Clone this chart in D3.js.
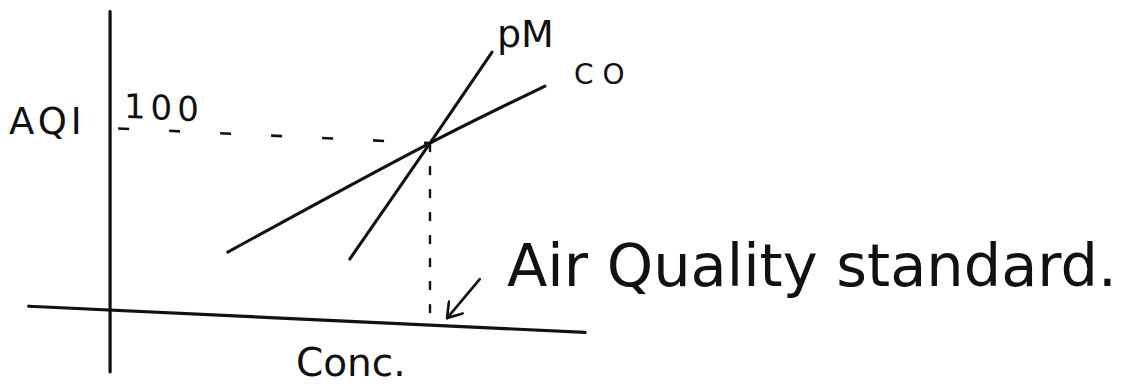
<!DOCTYPE html>
<html>
<head>
<meta charset="utf-8">
<script src="https://cdn.jsdelivr.net/npm/d3@7/dist/d3.min.js"></script>
<style>
  html, body { margin: 0; padding: 0; background: #fff; }
  svg { display: block; }
  text { font-family: "DejaVu Sans", sans-serif; fill: #111; }
</style>
</head>
<body>
<svg id="chart" width="1126" height="389"></svg>
<script>
// Sketch of AQI vs concentration for two pollutants
const pmConc = [45, 60, 71.6];
const pmAqi = [34.2, 100, 151.6];
const coConc = [22.2, 60, 81.5];
const coAqi = [34.9, 100, 134.3];

const standardConc = 60;     // concentration at the air quality standard
const standardAqi = 100;     // AQI value at the standard
const guideStartConc = 1.7;  // where the horizontal guide starts

const xAxisExtent = [-15, 89];
const yAxisExtent = [-34, 164];

const yTickValues = [100];
const yTickLabels = ["100"];

const arrowConc = [69.3, 63.2];
const arrowAqi = [26.6, 4.3];

const W = 1126, H = 389;
const svg = d3.select("#chart");

const x = d3.scaleLinear().domain([0, 60]).range([109, 430]);
const y = d3.scaleLinear().domain([0, 100]).range([310, 128]);

// the paper sketch is slightly tilted: shear the plot about the y axis
const tilt = 0.047;
const tiltDeg = Math.atan(tilt) * 180 / Math.PI;
const plot = svg.append("g")
  .attr("transform", `translate(0,${-x(0) * tilt}) skewY(${tiltDeg})`);

const ink = "#111";

svg.append("defs").append("marker")
  .attr("id", "head")
  .attr("markerUnits", "userSpaceOnUse")
  .attr("viewBox", "0 0 20 20")
  .attr("refX", 18).attr("refY", 10)
  .attr("markerWidth", 20).attr("markerHeight", 20)
  .attr("orient", "auto")
  .append("path")
  .attr("d", "M4,1 L18,10 L4,19")
  .attr("fill", "none")
  .attr("stroke", ink)
  .attr("stroke-width", 2.6)
  .attr("stroke-linecap", "round")
  .attr("stroke-linejoin", "round");

const line = d3.line().x(d => x(d[0])).y(d => y(d[1]));

// axes
plot.append("path")
  .attr("d", line(xAxisExtent.map(c => [c, 0])))
  .attr("stroke", ink).attr("stroke-width", 3.2).attr("fill", "none")
  .attr("stroke-linecap", "round");
plot.append("path")
  .attr("d", line(yAxisExtent.map(a => [0.2, a])))
  .attr("stroke", ink).attr("stroke-width", 3.2).attr("fill", "none")
  .attr("stroke-linecap", "round");

// guides to the standard
plot.append("path")
  .attr("d", line([[guideStartConc, standardAqi], [standardConc, standardAqi]]))
  .attr("stroke", ink).attr("stroke-width", 2.6).attr("fill", "none")
  .attr("stroke-dasharray", "11 40");
plot.append("path")
  .attr("d", line([[standardConc, standardAqi], [standardConc, 0]]))
  .attr("stroke", ink).attr("stroke-width", 2.4).attr("fill", "none")
  .attr("stroke-dasharray", "9 14");

// pollutant lines
const curve = d3.line().x(d => x(d[0])).y(d => y(d[1])).curve(d3.curveCatmullRom);
plot.append("path")
  .attr("d", curve(pmConc.map((c, i) => [c, pmAqi[i]])))
  .attr("stroke", ink).attr("stroke-width", 3).attr("fill", "none")
  .attr("stroke-linecap", "round");
plot.append("path")
  .attr("d", curve(coConc.map((c, i) => [c, coAqi[i]])))
  .attr("stroke", ink).attr("stroke-width", 3).attr("fill", "none")
  .attr("stroke-linecap", "round");

// arrow pointing at the standard
plot.append("path")
  .attr("d", line(arrowConc.map((c, i) => [c, arrowAqi[i]])))
  .attr("stroke", ink).attr("stroke-width", 2.6).attr("fill", "none")
  .attr("stroke-linecap", "round")
  .attr("marker-end", "url(#head)");

// tick label
plot.selectAll(".tick")
  .data(yTickValues)
  .join("text")
  .attr("class", "tick")
  .attr("x", x(0) + 15)
  .attr("y", d => y(d) - 11)
  .attr("font-size", 34)
  .attr("letter-spacing", 5)
  .text((d, i) => yTickLabels[i]);

// labels
svg.append("text").attr("x", 9).attr("y", 134).attr("font-size", 37)
  .attr("letter-spacing", 4).text("AQI");
svg.append("text").attr("x", 296).attr("y", 376).attr("font-size", 39).text("Conc.");
svg.append("text").attr("x", 497).attr("y", 47).attr("font-size", 38).text("pM");
svg.append("text").attr("x", 574).attr("y", 84).attr("font-size", 28)
  .attr("letter-spacing", 9).text("CO");
svg.append("text").attr("x", 507).attr("y", 286).attr("font-size", 59)
  .text("Air Quality standard.");
</script>
</body>
</html>
